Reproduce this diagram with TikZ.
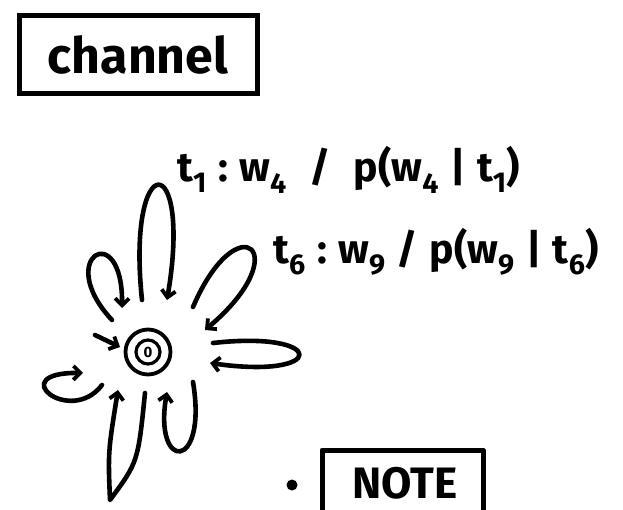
\documentclass[tikz,border=0pt]{standalone}
\usepackage{fontspec}
\setmainfont{Fira Sans}
\usetikzlibrary{calc,arrows.meta}
\begin{document}
\begin{tikzpicture}[x=1pt,y=1pt,
  ink/.style={line width=4.6pt, line cap=round, line join=round},
  loopline/.style={ink, -{Straight Barb[length=7pt,width=14pt,line width=3.8pt]}},
  boxed/.style={draw, line width=5pt, inner sep=0pt},
  lbl/.style={font=\fontsize{41}{41}\bfseries\selectfont, inner sep=0pt}
]
\useasboundingbox (0,0) rectangle (623,509);

% title box
\node[boxed, minimum width=238pt, minimum height=78pt,
      font=\fontsize{50}{50}\bfseries\selectfont] (title) at (138,454) {channel};

% the state: double circle with its label
\node[circle, draw, line width=3.8pt, minimum size=45pt, inner sep=0pt] (s) at (148,157) {};
\node[circle, draw, line width=3.2pt, minimum size=24pt, inner sep=0pt,
      font=\fontsize{15}{15}\bfseries\selectfont] (si) at (s) {0};

% self loops around the state
\draw[loopline] ($(s)+(-6,52)$) .. controls ($(s)+(-22,205)$) and ($(s)+(45,205)$) .. ($(s)+(19,52)$);
\draw[loopline] ($(s)+(-36,32)$) .. controls ($(s)+(-95,95)$) and ($(s)+(-25,135)$) .. ($(s)+(-26,44)$);
\draw[loopline] ($(s)+(45,45)$) .. controls ($(s)+(90,150)$) and ($(s)+(150,100)$) .. ($(s)+(57,22)$);
\draw[loopline] ($(s)+(65,9)$) .. controls ($(s)+(180,22)$) and ($(s)+(180,-28)$) .. ($(s)+(62,-11)$);
\draw[loopline] ($(s)+(-46,-33)$) .. controls ($(s)+(-78,-75)$) and ($(s)+(-145,-20)$) .. ($(s)+(-65,-21)$);
\draw[loopline] ($(s)+(-3,-41)$) .. controls ($(s)+(-10,-110)$) .. ($(s)+(-38,-148)$)
                .. controls ($(s)+(-40,-100)$) .. ($(s)+(-30,-38)$);
\draw[loopline] ($(s)+(45,-30)$) .. controls ($(s)+(60,-120)$) and ($(s)+(5,-120)$) .. ($(s)+(19,-40)$);

% initial arrow
\coordinate (init) at ($(s)+(-53,17)$);
\draw[loopline] (init) -- ($(s)+(-28,5)$);

% transition labels
\node[lbl, anchor=west] (l1) at (177,339)
  {t\textsubscript{1}\;:\;w\textsubscript{4}\;\;/\;\;p(w\textsubscript{4}\;|\;t\textsubscript{1})};
\node[lbl, anchor=west] (l6) at (273,257)
  {t\textsubscript{6}\;:\;w\textsubscript{9}\;/\;p(w\textsubscript{9}\;|\;t\textsubscript{6})};

% note: bullet and a box running off the bottom edge
\fill (292,24) circle (5.5pt);
\coordinate (nbl) at (322,-10);
\coordinate (nbr) at (483,-10);
\draw[ink, line width=5pt] (nbl) -- (322,59) -- (483,59) -- (nbr);
\node[font=\fontsize{44}{44}\bfseries\selectfont, inner sep=0pt, anchor=base] (notetext) at (405,11) {NOTE};
\end{tikzpicture}
\end{document}
